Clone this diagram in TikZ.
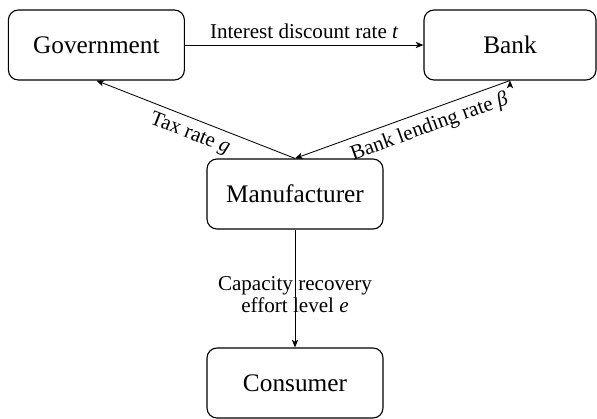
\documentclass[tikz,border=0pt]{standalone}
\usepackage{fontspec}
\setmainfont{Liberation Serif}
\usetikzlibrary{positioning,arrows,arrows.meta,shapes}
\tikzset{
	->,
	>={Stealth[length=5.5pt,width=4.5pt,inset=1.5pt]},
	node distance=3cm,
	agent/.style={draw, thick, rounded corners=0.25cm, minimum width=4.4cm, minimum height=1.75cm, font=\fontsize{18}{20}\selectfont},
	flow/.style={font=\fontsize{15}{16}\selectfont},
}

\begin{document}
\begin{tikzpicture}
		\useasboundingbox (0,0) rectangle (14.925,10.45);
		\node[agent] (gov) at (2.41,9.325) {Government};
		\node[agent, minimum width=4.3cm] (bank) at (12.75,9.325) {Bank};
		\node[agent] (man) at (7.375,5.6) {Manufacturer};
		\node[agent] (con) at (7.375,0.875) {Consumer};

		\draw[semithick] (gov) edge node[flow, above=1pt] {Interest discount rate \textit{t}} (bank)
		(man.north) edge node[flow, sloped, below=1pt, pos=0.5] {Tax rate \textit{g}} (gov.south)
		(bank.south) edge node[flow, sloped, below=1pt, pos=0.4] {Bank lending rate \textit{β}} (man.north)
		(man) edge node[flow, align=center, pos=0.55] {Capacity recovery\\ effort level \textit{e}} (con);
	\end{tikzpicture}
\end{document}
